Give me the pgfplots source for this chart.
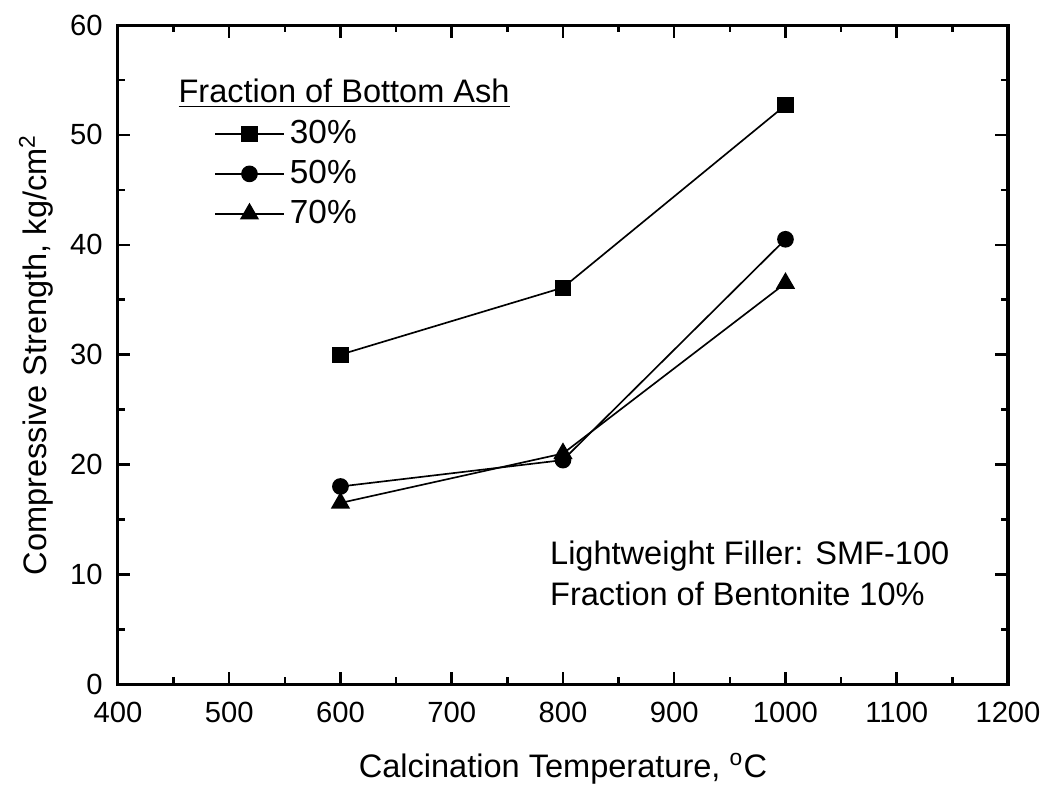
\documentclass[border=0pt]{standalone}
\usepackage{pgfplots}
\pgfplotsset{compat=1.18}
\usetikzlibrary{calc}
\usepackage{fontspec}
\setmainfont{Liberation Sans}

\begin{document}
\begin{tikzpicture}
\begin{axis}[
  width=320pt, height=237pt,
  scale only axis,
  xmin=400, xmax=1200,
  ymin=0, ymax=60,
  xtick={400,500,...,1200},
  ytick={0,10,...,60},
  minor x tick num=1,
  minor y tick num=1,
  tick align=inside,
  major tick length=4.5pt,
  minor tick length=2.5pt,
  axis line style={line width=1.1pt},
  every tick/.style={black, line width=0.9pt},
  tick label style={font=\fontsize{10.5}{11}\selectfont},
  xticklabel style={yshift=-3pt},
  yticklabel style={xshift=-2pt},
  /pgf/number format/assume math mode=true,
  /pgf/number format/1000 sep={},
  xlabel={Calcination Temperature, \textsuperscript{o}C},
  ylabel={Compressive Strength, kg/cm\textsuperscript{2}},
  label style={font=\fontsize{11.7}{13}\selectfont},
  xlabel style={yshift=-4pt},
  ylabel style={yshift=-1pt},
  legend style={at={(rel axis cs:0.108,0.865)}, anchor=north west,
    draw=none, fill=none, font=\fontsize{12}{13}\selectfont,
    row sep=0.5pt, inner sep=0pt},
  legend cell align=left,
  legend image code/.code={%
    \draw[mark repeat=2, mark phase=2, #1]
      plot coordinates {(0cm,0cm) (0.43cm,0cm) (0.86cm,0cm)};},
  clip=false,
]
\addplot[black, line width=0.6pt, mark=square*, mark size=2.6pt]
  coordinates {(600,30.0) (800,36.1) (1000,52.7)};
\addlegendentry{30\%}
\addplot[black, line width=0.6pt, mark=*, mark size=2.7pt]
  coordinates {(600,18.0) (800,20.4) (1000,40.5)};
\addlegendentry{50\%}
\addplot[black, line width=0.6pt, mark=triangle*, mark size=3.4pt]
  coordinates {(600,16.5) (800,21.0) (1000,36.5)};
\addlegendentry{70\%}

\node[anchor=west, inner sep=0pt, font=\fontsize{11.7}{13}\selectfont]
  at (axis cs:454,53.8) {\underline{Fraction of Bottom Ash}};
\node[anchor=west, inner sep=0pt, align=left, font=\fontsize{11.7}{14.5}\selectfont]
  at (axis cs:788,10.1) {Lightweight Filler: SMF-100\\Fraction of Bentonite 10\%};
\coordinate (bl) at (rel axis cs:0,0);
\coordinate (tr) at (rel axis cs:1,1);
\end{axis}
\pgfresetboundingbox
\path ($(bl)+(-42.4pt,-37pt)$) rectangle ($(tr)+(16.9pt,9pt)$);
\end{tikzpicture}
\end{document}
